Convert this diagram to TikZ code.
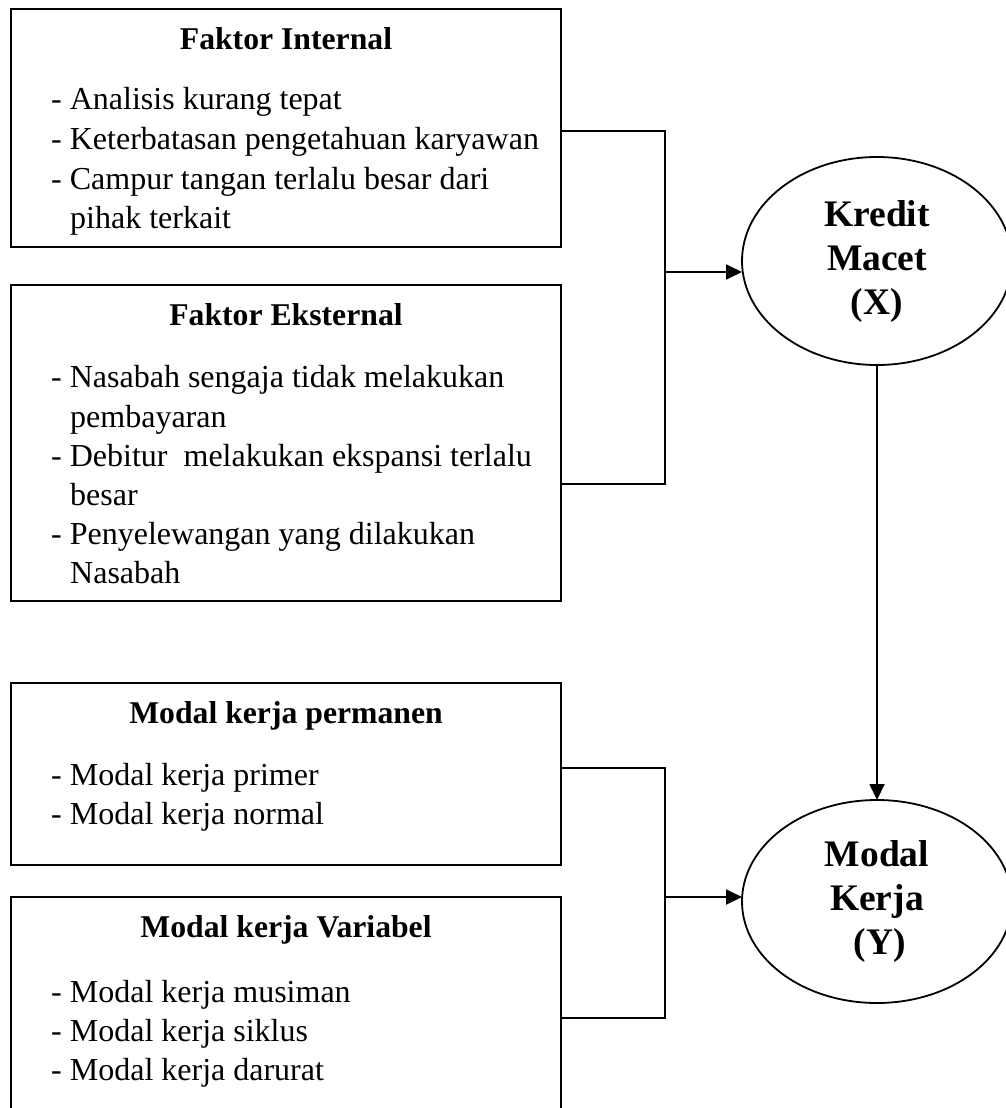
\documentclass[tikz,border=0pt]{standalone}
\usepackage{fontspec}
\setmainfont{Liberation Serif}
\usetikzlibrary{arrows.meta,shapes.geometric}
\begin{document}
\begin{tikzpicture}[x=1pt,y=-1pt,
  box/.style={draw, line width=1.8pt, minimum width=550pt, inner sep=0pt, outer sep=0pt},
  ttl/.style={anchor=base, inner sep=0pt, font=\fontsize{31.7}{38}\selectfont\bfseries},
  itm/.style={anchor=base west, inner sep=0pt, font=\fontsize{32}{38}\selectfont},
  oval/.style={draw, ellipse, line width=1.8pt, minimum width=270pt, inner sep=0pt, outer sep=0pt, align=center, font=\fontsize{37.5}{44}\selectfont\bfseries},
  wire/.style={line width=1.8pt},
  arr/.style={wire, -{Triangle[length=16pt,width=15pt]}}]
\useasboundingbox (0,0) rectangle (1006,1108);

% boxes
\node[box, minimum height=238pt] (b1) at (286,128) {};
\node[box, minimum height=316pt] (b2) at (286,443) {};
\node[box, minimum height=182pt] (b3) at (286,774) {};
\node[box, minimum height=233pt] (b4) at (286,1013.5) {};

% box 1 text
\node[ttl] (t1) at (286,50) {Faktor Internal};
\node[itm] (a1) at (51,109) {- Analisis kurang tepat};
\node[itm] (a2) at (51,149) {- Keterbatasan pengetahuan karyawan};
\node[itm] (a3) at (51,189) {- Campur tangan terlalu besar dari};
\node[itm] (a4) at (70,228) {pihak terkait};

% box 2 text
\node[ttl] (t2) at (286,325) {Faktor Eksternal};
\node[itm] (c1) at (51,387) {- Nasabah sengaja tidak melakukan};
\node[itm] (c2) at (70,427) {pembayaran};
\node[itm] (c3) at (51,466) {- Debitur\ \ melakukan ekspansi terlalu};
\node[itm] (c4) at (70,505) {besar};
\node[itm] (c5) at (51,544) {- Penyelewangan yang dilakukan};
\node[itm] (c6) at (70,583) {Nasabah};

% box 3 text
\node[ttl] (t3) at (286,723) {Modal kerja permanen};
\node[itm] (d1) at (51,785) {- Modal kerja primer};
\node[itm] (d2) at (51,824) {- Modal kerja normal};

% box 4 text
\node[ttl] (t4) at (286,937) {Modal kerja Variabel};
\node[itm] (e1) at (51,1002) {- Modal kerja musiman};
\node[itm] (e2) at (51,1041) {- Modal kerja siklus};
\node[itm] (e3) at (51,1080) {- Modal kerja darurat};

% ellipses
\node[oval, minimum height=208pt] (kx) at (877,261) {Kredit\\Macet\\(X)};
\node[oval, minimum height=203pt] (my) at (877,901.5) {Modal\\Kerja\\\hspace*{6pt}(Y)};

% bracket 1
\coordinate (p1) at (b1.east |- 0,131);
\coordinate (q1) at (665,131);
\coordinate (r1) at (665,484);
\coordinate (s1) at (b2.east |- 0,484);
\coordinate (j1) at (665,272);
\draw[wire] (p1) -- (q1) -- (r1) -- (s1);
\draw[arr] (j1) -- (j1 -| kx.west);

% bracket 2
\coordinate (p2) at (b3.east |- 0,768);
\coordinate (q2) at (665,768);
\coordinate (r2) at (665,1018);
\coordinate (s2) at (b4.east |- 0,1018);
\coordinate (j2) at (665,897);
\draw[wire] (p2) -- (q2) -- (r2) -- (s2);
\draw[arr] (j2) -- (j2 -| my.west);

% vertical arrow
\draw[arr] (kx.south) -- (my.north);
\end{tikzpicture}
\end{document}
